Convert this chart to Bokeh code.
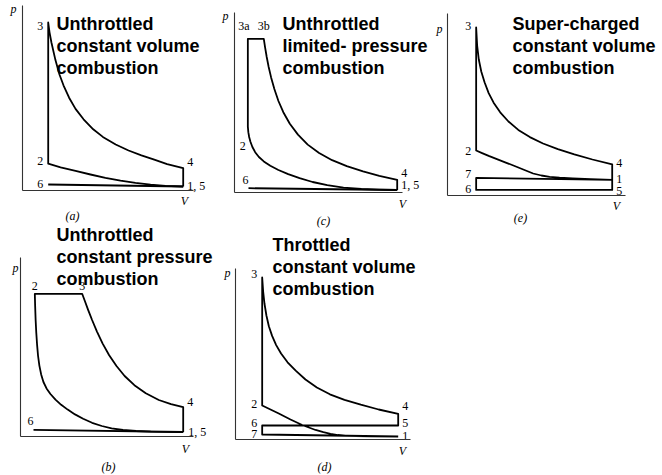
from bokeh.plotting import figure
from bokeh.models import Range1d, LinearAxis, FixedTicker, ColumnDataSource
from bokeh.embed import file_html
from bokeh.resources import INLINE
from bokeh.core.properties import value

W, H = 662, 475

# ---------------- data ----------------
# V : cylinder volume as a fraction of the maximum volume V1
# p : pressure (arbitrary units, roughly bar)

# (a) unthrottled, constant-volume combustion
a_states = {"1": (1.0, 1.0), "2": (0.16, 6.7), "3": (0.16, 42.0),
            "4": (1.0, 5.6), "6": (0.16, 1.5)}
a_comp_V = [1.0, 0.89, 0.797, 0.703, 0.61, 0.516, 0.423, 0.33, 0.237, 0.16]
a_comp_p = [1.0, 1.18, 1.45, 1.88, 2.45, 3.18, 4.0, 4.88, 5.8, 6.7]
a_exp_V = [0.16, 0.168, 0.18, 0.205, 0.23, 0.255, 0.29, 0.33, 0.38, 0.44,
           0.5, 0.58, 0.66, 0.74, 0.82, 0.9, 1.0]
a_exp_p = [42.0, 39.6, 37.0, 32.6, 29.0, 26.3, 23.2, 20.4, 17.8, 15.3,
           13.4, 11.5, 10.0, 8.8, 7.7, 6.6, 5.6]

# (c) unthrottled, limited-pressure combustion
c_states = {"1": (1.0, 0.55), "2": (0.082, 16.4), "3a": (0.082, 38.35),
            "3b": (0.18, 38.35), "4": (1.0, 3.1), "6": (0.086, 1.0)}
c_comp_V = [1.0, 0.89, 0.78, 0.67, 0.57, 0.48, 0.40, 0.33, 0.27, 0.22,
            0.18, 0.15, 0.127, 0.11, 0.098, 0.09, 0.085, 0.082]
c_comp_p = [0.55, 0.63, 0.8, 1.15, 1.75, 2.55, 3.5, 4.5, 5.55, 6.6,
            7.7, 8.8, 10.0, 11.3, 12.6, 13.8, 15.0, 16.4]
c_exp_V = [0.18, 0.188, 0.198, 0.21, 0.225, 0.245, 0.27, 0.30, 0.34, 0.39,
           0.45, 0.52, 0.60, 0.69, 0.79, 0.89, 1.0]
c_exp_p = [38.35, 36.2, 33.8, 31.3, 28.7, 25.8, 22.8, 20.0, 17.1, 14.4,
           11.9, 9.8, 8.0, 6.5, 5.2, 4.1, 3.1]

# (e) supercharged, constant-volume combustion
e_states = {"1": (1.0, 3.93), "2": (0.174, 11.25), "3": (0.174, 42.0),
            "4": (1.0, 7.8), "5": (1.0, 1.4), "6": (0.174, 1.4),
            "7": (0.174, 4.4)}
e_comp_V = [1.0, 0.87, 0.76, 0.68, 0.62, 0.57, 0.52, 0.46, 0.40, 0.35,
            0.30, 0.25, 0.21, 0.174]
e_comp_p = [3.93, 4.1, 4.28, 4.45, 4.68, 5.0, 5.5, 6.5, 7.5, 8.3,
            9.1, 9.9, 10.6, 11.25]
e_exp_V = [0.174, 0.18, 0.19, 0.205, 0.225, 0.25, 0.28, 0.32, 0.37, 0.43,
           0.50, 0.58, 0.67, 0.77, 0.88, 1.0]
e_exp_p = [42.0, 37.5, 34.0, 31.0, 28.3, 25.6, 23.2, 20.8, 18.5, 16.4,
           14.6, 13.0, 11.6, 10.3, 9.0, 7.8]

# (b) unthrottled, constant-pressure combustion
b_states = {"1": (1.0, 1.0), "2": (0.088, 35.55), "3": (0.379, 35.55),
            "4": (1.0, 7.2), "6": (0.08, 1.55)}
b_comp_V = [1.0, 0.90, 0.80, 0.71, 0.63, 0.56, 0.50, 0.44, 0.385, 0.335,
            0.29, 0.25, 0.215, 0.184, 0.16, 0.141, 0.127, 0.116, 0.108,
            0.102, 0.097, 0.093, 0.09, 0.088]
b_comp_p = [1.0, 1.03, 1.1, 1.25, 1.5, 1.9, 2.5, 3.3, 4.3, 5.4,
            6.6, 7.8, 9.1, 10.5, 11.9, 13.5, 15.4, 17.6, 20.0,
            22.8, 25.8, 29.0, 32.5, 35.55]
b_exp_V = [0.379, 0.395, 0.415, 0.44, 0.47, 0.505, 0.545, 0.59, 0.64, 0.70,
           0.77, 0.85, 0.925, 1.0]
b_exp_p = [35.55, 33.8, 31.6, 29.0, 26.1, 23.1, 20.2, 17.5, 15.0, 12.7,
           10.7, 9.0, 7.95, 7.2]

# (d) throttled, constant-volume combustion
d_states = {"1": (1.0, 0.75), "2": (0.164, 8.5), "3": (0.164, 40.5),
            "4": (1.0, 6.4), "5": (1.0, 3.5), "6": (0.164, 3.5),
            "7": (0.164, 1.25)}
d_comp_V = [1.0, 0.83, 0.74, 0.676, 0.63, 0.584, 0.54, 0.492, 0.41, 0.338,
            0.266, 0.215, 0.164]
d_comp_p = [0.75, 0.8, 0.86, 0.95, 1.12, 1.43, 1.85, 2.38, 3.63, 5.0,
            6.5, 7.5, 8.5]
d_exp_V = [0.164, 0.17, 0.178, 0.19, 0.205, 0.225, 0.25, 0.28, 0.32, 0.37,
           0.43, 0.50, 0.58, 0.67, 0.77, 0.88, 1.0]
d_exp_p = [40.5, 37.0, 34.0, 31.0, 28.3, 25.9, 23.6, 21.5, 19.3, 17.2,
           15.0, 13.0, 11.3, 9.9, 8.7, 7.5, 6.4]

# texts
titles = {
    "a": ["Unthrottled", "constant volume", "combustion"],
    "c": ["Unthrottled", "limited- pressure", "combustion"],
    "e": ["Super-charged", "constant volume", "combustion"],
    "b": ["Unthrottled", "constant pressure", "combustion"],
    "d": ["Throttled", "constant volume", "combustion"],
}
panel_tags = {"a": "(a)", "c": "(c)", "e": "(e)", "b": "(b)", "d": "(d)"}

# ---------------- layout / style (pixels) ----------------
frames = {
    "a": dict(x0=22, y0=190, kx=160.7, xend=193, ytop=5),
    "c": dict(x0=234, y0=191.7, kx=162.7, xend=402, ytop=11.7),
    "e": dict(x0=447, y0=195, kx=164.7, xend=625, ytop=13),
    "b": dict(x0=20, y0=435.5, kx=162.7, xend=193, ytop=256.7),
    "d": dict(x0=235, y0=439, kx=162.7, xend=410, ytop=268),
}
KY = 4.0  # pixels per unit p
title_pos = {"a": (56, 23), "c": (282, 23), "e": (512, 23),
             "b": (56, 234.5), "d": (272, 244.5)}
LINE_STEP = 22
tag_pos = {"a": (72, 215), "c": (323, 220), "e": (520, 217),
           "b": (108, 466), "d": (324, 466)}
p_pos = {"a": (13, 8), "c": (225, 15), "e": (439, 28),
         "b": (15, 267), "d": (227, 272)}
v_pos = {"a": (184, 200), "c": (402, 203), "e": (616, 205),
         "b": (185, 448), "d": (402, 450)}
# state labels: (text, state, side, dx, dy)
labels = {
    "a": [("3", "3", "L", -5, 3), ("2", "2", "L", -5, -3),
          ("6", "6", "L", -5, -1), ("4", "4", "R", 4, -6),
          ("1, 5", "1", "R", 4, -1)],
    "c": [("3a", "3a", "T", -4, -13), ("3b", "3b", "T", 0, -13),
          ("2", "2", "L", -2, 19), ("6", "6", "L", 0, -8),
          ("4", "4", "R", 4, -7), ("1, 5", "1", "R", 4, -5)],
    "e": [("3", "3", "L", -5, -2), ("2", "2", "L", -5, 0),
          ("7", "7", "L", -5, -4), ("6", "6", "L", -5, -1),
          ("4", "4", "R", 4, -1), ("1", "1", "R", 4, -1),
          ("5", "5", "R", 4, 1)],
    "b": [("2", "2", "T", 0, -8), ("3", "3", "T", 0, -8),
          ("6", "6", "T", -3, -9), ("4", "4", "R", 4, -5),
          ("1, 5", "1", "R", 5, 0)],
    "d": [("3", "3", "L", -5, -4), ("2", "2", "L", -5, -2),
          ("6", "6", "L", -5, -3), ("7", "7", "L", -5, -1),
          ("4", "4", "R", 4, -8), ("5", "5", "R", 4, -3),
          ("1", "1", "R", 4, -1)],
}

INK = "#000000"
SERIF = value("Liberation Serif")
SANS = value("Liberation Sans")
LW = 1.8

extra_x, extra_y = {}, {}
for k, f in frames.items():
    extra_x[k] = Range1d(start=-f["x0"] / f["kx"], end=(W - f["x0"]) / f["kx"])
    extra_y[k] = Range1d(start=(f["y0"] - H) / KY, end=f["y0"] / KY)

p = figure(width=W, height=H, x_range=Range1d(0, W), y_range=Range1d(H, 0),
           x_axis_type=None, y_axis_type=None, toolbar_location=None,
           output_backend="svg", min_border=0, outline_line_color=None,
           background_fill_color="white", border_fill_color="white")
p.extra_x_ranges = extra_x
p.extra_y_ranges = extra_y
p.grid.visible = False

# axes of every panel
for k, f in frames.items():
    xb = (f["xend"] - f["x0"]) / f["kx"]
    yb = (f["y0"] - f["ytop"]) / KY
    common = dict(x_range_name=k, y_range_name=k, fixed_location=0,
                  ticker=FixedTicker(ticks=[]), major_tick_line_color=None,
                  minor_tick_line_color=None, major_label_text_font_size="0px",
                  axis_line_color="#333333", axis_line_width=1.1)
    p.add_layout(LinearAxis(bounds=(0, xb), **common), "below")
    p.add_layout(LinearAxis(bounds=(0, yb), **common), "left")

# cycles
cycles = {
    "a": (a_states, a_comp_V, a_comp_p, a_exp_V, a_exp_p, ["1"], [("6", "1")]),
    "c": (c_states, c_comp_V, c_comp_p, c_exp_V, c_exp_p, ["1"], [("6", "1")]),
    "e": (e_states, e_comp_V, e_comp_p, e_exp_V, e_exp_p, ["5", "6", "7", "1"], []),
    "b": (b_states, b_comp_V, b_comp_p, b_exp_V, b_exp_p, ["1"], [("6", "1")]),
    "d": (d_states, d_comp_V, d_comp_p, d_exp_V, d_exp_p, ["5", "6", "7", "1"], []),
}
for k, (st, cV, cP, eV, eP, tail, extra) in cycles.items():
    mid = ["3a"] if k == "c" else []
    xs = list(cV) + [st[m][0] for m in mid] + list(eV) + [st[t][0] for t in tail]
    ys = list(cP) + [st[m][1] for m in mid] + list(eP) + [st[t][1] for t in tail]
    p.line(xs, ys, x_range_name=k, y_range_name=k, line_color=INK,
           line_width=LW, line_join="round")
    for s0, s1 in extra:
        p.line([st[s0][0], st[s1][0]], [st[s0][1], st[s1][1]],
               x_range_name=k, y_range_name=k, line_color=INK,
               line_width=LW, line_join="round")

    # state labels
    for side, align in (("L", "right"), ("R", "left"), ("T", "center")):
        sel = [l for l in labels[k] if l[2] == side]
        if not sel:
            continue
        src = ColumnDataSource(dict(
            x=[st[l[1]][0] for l in sel], y=[st[l[1]][1] for l in sel],
            t=[l[0] for l in sel], dx=[l[3] for l in sel],
            dy=[l[4] for l in sel]))
        p.text(x="x", y="y", text="t", x_offset="dx", y_offset="dy",
               source=src, x_range_name=k, y_range_name=k,
               text_font=SERIF, text_font_size="12px", text_color=INK,
               text_align=align, text_baseline="middle")

# titles
tx, ty, tt = [], [], []
for k, lines in titles.items():
    x0, y0 = title_pos[k]
    for i, s in enumerate(lines):
        tx.append(x0)
        ty.append(y0 + i * LINE_STEP)
        tt.append(s)
p.text(x=tx, y=ty, text=tt, text_font=SANS, text_font_style="bold",
       text_font_size="18px", text_color="black", text_align="left",
       text_baseline="alphabetic")

# axis letters and panel tags
ks = list(frames.keys())
for pos, txt in ((p_pos, ["p"] * len(ks)), (v_pos, ["V"] * len(ks)),
                 (tag_pos, [panel_tags[k] for k in ks])):
    p.text(x=[pos[k][0] for k in ks], y=[pos[k][1] for k in ks], text=txt,
           text_font=SERIF, text_font_style="italic", text_font_size="12px",
           text_color=INK, text_align="center", text_baseline="middle")

open("out.html", "w").write(file_html(p, INLINE))
